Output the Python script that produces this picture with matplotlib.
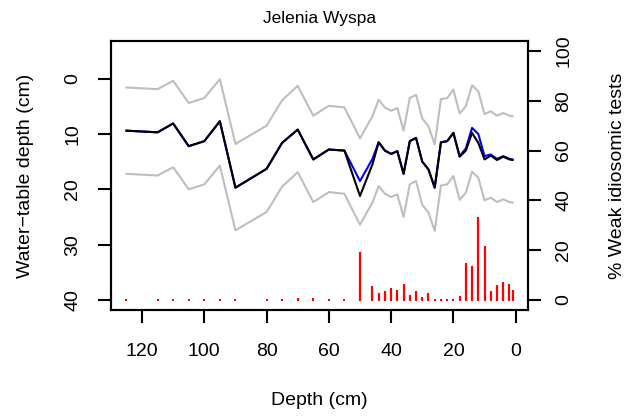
import numpy as np
import matplotlib
matplotlib.use("Agg")
import matplotlib.pyplot as plt

plt.rcParams['font.family'] = ['Liberation Sans', 'DejaVu Sans']

# core depth (cm) of each sample
depth = [125, 115, 110, 105, 100, 95, 90, 80, 75, 70, 65, 60, 55, 50,
         46, 44, 42, 40, 38, 36, 34, 32, 30, 28, 26, 24, 22, 20, 18, 16,
         14, 12, 10, 8, 6, 4, 2, 1]

# reconstructed water-table depth (cm), all tests
wtd_all = [9.4, 9.7, 8.1, 12.2, 11.3, 7.7, 19.7, 16.3, 11.6, 9.2, 14.6, 12.8, 13.0, 21.2,
           15.5, 11.5, 13.0, 13.6, 13.1, 17.2, 11.3, 10.7, 15.0, 16.4, 19.7, 11.5, 11.3, 9.8, 14.1, 13.0,
           9.8, 11.6, 14.6, 13.9, 14.7, 14.1, 14.6, 14.7]

# reconstruction without weak idiosomic tests
wtd_noweak = [9.4, 9.7, 8.1, 12.2, 11.3, 7.7, 19.7, 16.3, 11.6, 9.2, 14.6, 12.8, 13.0, 18.5,
              14.5, 11.5, 13.0, 13.6, 13.1, 17.2, 11.3, 10.7, 15.0, 16.4, 19.7, 11.5, 11.3, 9.8, 14.0, 12.6,
              8.9, 10.0, 14.0, 13.7, 14.5, 14.0, 14.5, 14.6]

# error band
wtd_upper = [1.6, 1.9, 0.4, 4.4, 3.5, 0.1, 11.8, 8.5, 3.9, 1.3, 6.7, 4.9, 5.2, 10.8,
             6.8, 3.8, 5.2, 5.8, 5.3, 9.4, 3.5, 2.9, 7.2, 8.6, 11.9, 3.7, 3.5, 2.0, 6.3, 5.0,
             1.2, 2.3, 6.4, 5.9, 6.7, 6.2, 6.7, 6.8]
wtd_lower = [17.2, 17.5, 16.0, 20.0, 19.1, 15.7, 27.4, 24.1, 19.5, 16.9, 22.3, 20.5, 20.8, 26.4,
             22.4, 19.4, 20.8, 21.4, 20.9, 25.0, 19.1, 18.5, 22.8, 24.2, 27.5, 19.3, 19.1, 17.6, 21.9, 20.6,
             16.8, 17.9, 22.0, 21.5, 22.3, 21.8, 22.3, 22.4]

# % weak idiosomic tests
pct_weak = [0, 0, 0, 0, 0, 0, 0, 0, 0, 0.5, 0.5, 0, 0, 18.9,
            5.1, 2.4, 3.3, 4.5, 3.5, 6.0, 1.7, 3.2, 0.7, 2.3, 0, 0, 0, 0, 1.3, 14.4,
            13.1, 32.8, 21.1, 3.1, 5.6, 6.9, 6.0, 3.7]

fig = plt.figure(figsize=(6.41, 4.19), dpi=100)
ax = fig.add_axes([111 / 641, 1 - 310 / 419, 417 / 641, 269 / 419])
ax2 = ax.twinx()
ax.set_zorder(ax2.get_zorder() + 1)
ax.patch.set_visible(False)

lw = 1.5
ax.plot(depth, wtd_upper, color='#BEBEBE', lw=lw)
ax.plot(depth, wtd_lower, color='#BEBEBE', lw=lw)
ax.plot(depth, wtd_noweak, color='blue', lw=lw)
ax.plot(depth, wtd_all, color='black', lw=lw)

# histogram-like spikes; the square caps also show the zero values as dots
ax2.vlines(depth, 0, pct_weak, colors='red', lw=1.6)
ax2.plot(depth, pct_weak, ls='none', marker='s', ms=1.8, mew=0, color='red')
ax2.plot(depth, [0] * len(depth), ls='none', marker='s', ms=1.8, mew=0, color='red')

ax.set_xlim(129.96, -3.96)
ax.set_ylim(41.8, -6.8)
ax2.set_ylim(-4, 104)

ax.set_xticks([120, 100, 80, 60, 40, 20, 0])
ax.set_yticks([0, 10, 20, 30, 40])
ax2.set_yticks([0, 20, 40, 60, 80, 100])

for a in (ax, ax2):
    for s in a.spines.values():
        s.set_linewidth(lw)

ax.tick_params(axis='x', direction='out', length=9.5, width=lw, pad=14, labelsize=14)
ax.tick_params(axis='y', direction='out', length=9.5, width=lw, pad=12, labelsize=14,
               labelrotation=90)
for t in ax.get_yticklabels():
    t.set_va('center')
ax2.tick_params(axis='y', direction='out', length=9.5, width=lw, pad=10, labelsize=14,
                labelrotation=90)
for t in ax2.get_yticklabels():
    t.set_va('center')

ax.set_xlabel('Depth (cm)', fontsize=14, va='center')
ax.xaxis.set_label_coords(0.5, (310 - 400) / 269)
ax.set_ylabel('Water\u2212table depth (cm)', fontsize=14, va='center')
ax.yaxis.set_label_coords((25 - 111) / 417, 0.5)
ax2.set_ylabel('% Weak idiosomic tests', fontsize=14, va='center', rotation=90)
ax2.yaxis.set_label_coords((618 - 111) / 417, 0.5)

fig.text(0.5 * (111 + 528) / 641, 1 - 18 / 419, 'Jelenia Wyspa', ha='center', va='center',
         fontsize=12.5)

fig.savefig('out.png', dpi=100)
